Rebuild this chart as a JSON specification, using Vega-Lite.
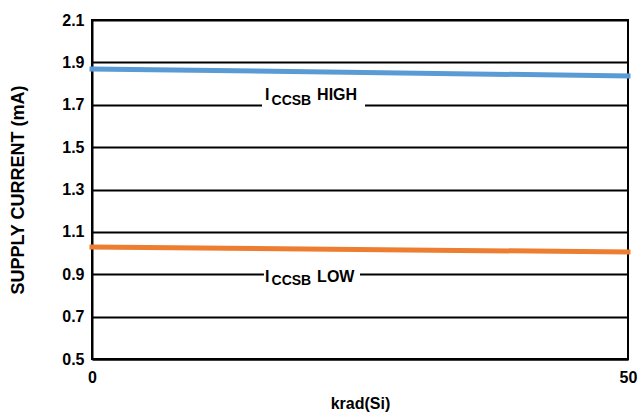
{
  "$schema": "https://vega.github.io/schema/vega-lite/v6.json",
  "autosize": "none",
  "width": 536,
  "height": 339,
  "padding": {"left": 92, "top": 20, "right": 10, "bottom": 55},
  "background": "white",
  "config": {
    "view": {"stroke": "black", "strokeWidth": 2},
    "font": "Liberation Sans",
    "axis": {
      "labelFont": "Liberation Sans", "labelFontWeight": "bold", "labelFontSize": 16, "labelColor": "black",
      "titleFont": "Liberation Sans", "titleFontWeight": "bold", "titleColor": "black",
      "domainColor": "black", "domainWidth": 2, "ticks": false,
      "gridColor": "black", "gridWidth": 2, "gridOpacity": 1
    }
  },
  "layer": [
    {
      "data": {"values": [
        {"x": 15.86, "x2": 25.47, "y": 1.68, "y2": 1.725},
        {"x": 16.04, "x2": 25.0, "y": 0.875, "y2": 0.92}
      ]},
      "mark": {"type": "rect", "fill": "white", "stroke": null},
      "encoding": {
        "x": {"field": "x", "type": "quantitative", "scale": {"domain": [0, 50], "nice": false},
              "axis": {"values": [0, 50], "grid": false, "labelFlush": false, "labelPadding": 10, "title": "krad(Si)", "titleFontSize": 16, "titlePadding": 10}},
        "x2": {"field": "x2"},
        "y": {"field": "y", "type": "quantitative", "scale": {"domain": [0.5, 2.1], "nice": false, "zero": false},
              "axis": {"values": [0.5, 0.7, 0.9, 1.1, 1.3, 1.5, 1.7, 1.9, 2.1], "format": ".1f", "grid": true, "labelPadding": 8, "title": "SUPPLY CURRENT (mA)", "titleFontSize": 18, "titlePadding": 34}},
        "y2": {"field": "y2"}
      }
    },
    {
      "data": {"values": [
        {"krad": 0, "current": 1.869, "series": "HIGH"},
        {"krad": 50, "current": 1.836, "series": "HIGH"},
        {"krad": 0, "current": 1.029, "series": "LOW"},
        {"krad": 50, "current": 1.005, "series": "LOW"}
      ]},
      "mark": {"type": "line", "strokeWidth": 5, "strokeCap": "square", "clip": false},
      "encoding": {
        "x": {"field": "krad", "type": "quantitative"},
        "y": {"field": "current", "type": "quantitative"},
        "color": {"field": "series", "type": "nominal", "scale": {"domain": ["HIGH", "LOW"], "range": ["#5b9bd5", "#ed7d31"]}, "legend": null}
      }
    },
    {
      "data": {"values": [
        {"x": 16.14, "y": 1.722, "t": "I"},
        {"x": 21.0, "y": 1.722, "t": "HIGH"},
        {"x": 16.14, "y": 0.863, "t": "I"},
        {"x": 21.0, "y": 0.863, "t": "LOW"}
      ]},
      "mark": {"type": "text", "align": "left", "baseline": "alphabetic", "fontSize": 16, "fontWeight": "bold", "font": "Liberation Sans", "color": "black"},
      "encoding": {
        "x": {"field": "x", "type": "quantitative"},
        "y": {"field": "y", "type": "quantitative"},
        "text": {"field": "t"}
      }
    },
    {
      "data": {"values": [
        {"x": 16.75, "y": 1.699, "t": "CCSB"},
        {"x": 16.75, "y": 0.848, "t": "CCSB"}
      ]},
      "mark": {"type": "text", "align": "left", "baseline": "alphabetic", "fontSize": 14, "fontWeight": "bold", "font": "Liberation Sans", "color": "black"},
      "encoding": {
        "x": {"field": "x", "type": "quantitative"},
        "y": {"field": "y", "type": "quantitative"},
        "text": {"field": "t"}
      }
    }
  ]
}
